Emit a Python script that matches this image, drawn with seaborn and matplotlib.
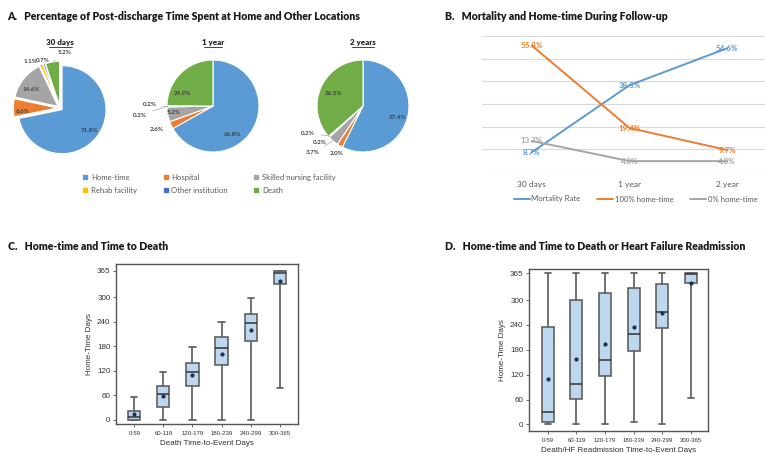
import numpy as np
import pandas as pd
import matplotlib
matplotlib.use("Agg")
import matplotlib.pyplot as plt
from matplotlib.lines import Line2D
import seaborn as sns

# ------------------------------------------------------------------ data
pie_categories = ["Home-time", "Hospital", "Skilled nursing facility",
                  "Rehab facility", "Other institution", "Death"]
pie_titles = ["30 days", "1 year", "2 years"]
pie_30d = [71.8, 6.6, 14.6, 1.1, 0.7, 5.2]
pie_1y = [66.8, 2.6, 5.2, 0.2, 0.2, 24.9]
pie_2y = [57.4, 2.0, 3.7, 0.2, 0.2, 36.5]

followup = ["30 days", "1 year", "2 year"]
line_series = ["Mortality Rate", "100% home-time", "0% home-time"]
mortality_rate = [8.7, 38.3, 54.6]
home_100 = [55.8, 19.4, 9.7]
home_0 = [13.7, 4.8, 4.8]

box_groups = ["0-59", "60-119", "120-179", "180-239", "240-299", "300-365"]
death_whislo = [0, 0, 0, 0, 0, 78]
death_q1 = [0, 30, 81, 133, 192, 331]
death_med = [6, 63, 117, 175, 236, 360]
death_q3 = [22, 82, 139, 201, 258, 365]
death_whishi = [55, 116, 177, 240, 298, 365]
death_mean = [13, 58, 108, 161, 219, 340]

hf_whislo = [0, 0, 0, 5, 0, 63]
hf_q1 = [6, 62, 117, 176, 232, 341]
hf_med = [31, 98, 156, 217, 272, 363]
hf_q3 = [234, 300, 316, 329, 339, 365]
hf_whishi = [365, 365, 365, 365, 365, 365]
hf_mean = [109, 157, 195, 234, 270, 342]

yticks = [0, 60, 120, 180, 240, 300, 365]

# ------------------------------------------------------------------ style
sns.set_style("white")
plt.rcParams["font.family"] = ["Lato", "DejaVu Sans"]

W, H = 765, 453
fig = plt.figure(figsize=(W / 100, H / 100), dpi=100)


def rect(x0, y0, x1, y1):
    return [x0 / W, 1 - y1 / H, (x1 - x0) / W, (y1 - y0) / H]


TITLE_KW = dict(fontsize=7.6, fontweight="heavy", color="#1a1a1a", va="center", ha="left")

# ------------------------------------------------------------------ panel A: pies
pie_colors = ["#5B9BD5", "#ED7D31", "#A5A5A5", "#FFC000", "#4472C4", "#70AD47"]
fig.text(7 / W, 1 - 17 / H,
         "A.   Percentage of Post-discharge Time Spent at Home and Other Locations", **TITLE_KW)

pie_geom = [(60, 108, 44), (213, 106, 46), (363, 106, 46)]
pie_explode = [0.06, 0.0, 0.0]
# label positions (in pie radii from centre) and whether a leader line is drawn
label_pos = [
    [(0.68, -0.50, False), (-0.84, -0.09, False), (-0.64, 0.41, False),
     (-0.68, 1.05, True), (-0.39, 1.09, True), (0.11, 1.25, True)],
    [(0.43, -0.63, False), (-1.22, -0.52, False), (-0.85, -0.15, False),
     (-1.37, 0.04, True), (-1.59, -0.20, True), (-0.67, 0.28, False)],
    [(0.76, -0.24, False), (-0.57, -1.04, True), (-1.09, -1.02, True),
     (-0.93, -0.80, True), (-1.20, -0.59, True), (-0.65, 0.28, False)],
]

for vals, title, (cx, cy, r), ex, lpos in zip([pie_30d, pie_1y, pie_2y], pie_titles,
                                              pie_geom, pie_explode, label_pos):
    s = 1.9
    ax = fig.add_axes(rect(cx - s * r, cy - s * r, cx + s * r, cy + s * r))
    wedges, _ = ax.pie(vals, colors=pie_colors, startangle=90, counterclock=False,
                       explode=[ex] * len(vals), radius=1,
                       wedgeprops=dict(edgecolor="white", linewidth=0.8))
    ax.set_xlim(-s, s)
    ax.set_ylim(-s, s)
    ax.set_aspect("equal")
    ax.axis("off")
    for v, w, (lx, ly, lead) in zip(vals, wedges, lpos):
        txt = f"{v:.1f}%"
        if lead:
            ang = np.deg2rad((w.theta1 + w.theta2) / 2)
            ex0, ey0 = w.center
            ax.annotate(txt, xy=(ex0 + 0.98 * np.cos(ang), ey0 + 0.98 * np.sin(ang)),
                        xytext=(lx, ly), fontsize=4.5, fontweight="bold", color="#404040",
                        ha="center", va="center",
                        arrowprops=dict(arrowstyle="-", color="#a6a6a6", lw=0.5,
                                        shrinkA=2, shrinkB=0))
        else:
            ax.text(lx, ly, txt, fontsize=4.5, fontweight="bold", color="#404040",
                    ha="center", va="center")
    fig.text(cx / W, 1 - 42 / H, title, fontsize=5.8, fontweight="heavy", color="#262626",
             ha="center", va="center")
    tw = {"30 days": 23, "1 year": 18, "2 years": 22}[title]
    fig.add_artist(Line2D([(cx - tw / 2) / W, (cx + tw / 2) / W],
                          [1 - 46.5 / H, 1 - 46.5 / H], color="#262626", lw=0.6))

order = [0, 3, 1, 4, 2, 5]
handles = [Line2D([], [], marker="s", ls="none", color=pie_colors[i], markersize=2.6)
           for i in order]
fig.legend(handles, [pie_categories[i] for i in order], ncol=3,
           loc="upper left", bbox_to_anchor=(83 / W, 1 - 174 / H),
           frameon=False, fontsize=5.6, labelcolor="#595959",
           handlelength=0.6, handletextpad=0.4, columnspacing=3.4,
           labelspacing=0.75, borderaxespad=0, borderpad=0)

# ------------------------------------------------------------------ panel B: lines
fig.text(445 / W, 1 - 17 / H, "B.   Mortality and Home-time During Follow-up", **TITLE_KW)
axb = fig.add_axes(rect(482, 36, 776, 172))
df_lines = pd.DataFrame({
    "followup": followup * 3,
    "value": mortality_rate + home_100 + home_0,
    "series": [line_series[0]] * 3 + [line_series[1]] * 3 + [line_series[2]] * 3,
})
line_colors = {"Mortality Rate": "#5B9BD5", "100% home-time": "#ED7D31",
               "0% home-time": "#A5A5A5"}
sns.lineplot(data=df_lines, x="followup", y="value", hue="series",
             palette=line_colors, linewidth=1.4, ax=axb, legend=False, sort=False)
axb.set_ylim(0, 60)
axb.set_xlim(-0.51, 2.5)
axb.set_yticks(np.arange(0, 61, 10))
axb.yaxis.grid(True, color="#d9d9d9", lw=0.8)
axb.set_axisbelow(True)
axb.tick_params(axis="y", left=False, labelleft=False)
axb.tick_params(axis="x", bottom=False, labelsize=6, labelcolor="#595959", pad=3)
axb.set_xlabel("")
axb.set_ylabel("")
for sp in axb.spines.values():
    sp.set_visible(False)
for name, vals in zip(line_series, [mortality_rate, home_100, home_0]):
    for i, v in enumerate(vals):
        axb.text(i, v, f"{v:.1f}%", color=line_colors[name], fontsize=5.8,
                 fontweight="bold", ha="center", va="center")
lh = [Line2D([], [], color=line_colors[n], lw=1.4) for n in line_series]
fig.legend(lh, line_series, ncol=3, loc="center left",
           bbox_to_anchor=(514 / W, 1 - 199 / H), frameon=False, fontsize=5.6,
           labelcolor="#595959", handlelength=2.0, handletextpad=0.2,
           columnspacing=2.2, borderaxespad=0, borderpad=0)

# ------------------------------------------------------------------ panels C and D: boxes


def draw_box(ax, whislo, q1, med, q3, whishi, mean, xlabel, xlim, ylim):
    stats = [dict(whislo=a, q1=b, med=c, q3=d, whishi=e, mean=f, fliers=[], label=g)
             for a, b, c, d, e, f, g in zip(whislo, q1, med, q3, whishi, mean, box_groups)]
    ax.bxp(stats, positions=range(len(stats)), widths=0.42, patch_artist=True,
           showmeans=True,
           boxprops=dict(facecolor="#BDD7EE", edgecolor="#555555", linewidth=1.1),
           medianprops=dict(color="#333333", linewidth=1.1),
           whiskerprops=dict(color="#666666", linewidth=1.3),
           capprops=dict(color="#666666", linewidth=1.3),
           meanprops=dict(marker="o", markersize=2.0, markerfacecolor="#1f2f4f",
                          markeredgecolor="#1f2f4f"))
    ax.set_xlim(*xlim)
    ax.set_ylim(*ylim)
    ax.set_yticks(yticks)
    ax.set_xticks(range(len(box_groups)))
    ax.set_xticklabels(box_groups)
    ax.tick_params(axis="y", labelsize=5.8, length=2, width=0.6, left=True,
                   labelcolor="#333333", pad=2, color="#555555")
    ax.tick_params(axis="x", labelsize=4.3, length=2, width=0.6, bottom=True,
                   labelcolor="#333333", pad=3, color="#555555")
    ax.set_ylabel("Home-Time Days", fontsize=5.8, color="#333333", labelpad=3,
                  family=["Liberation Sans", "DejaVu Sans"])
    ax.set_xlabel(xlabel, fontsize=5.8, color="#333333", labelpad=3,
                  family=["Liberation Sans", "DejaVu Sans"])
    for lab in ax.get_xticklabels() + ax.get_yticklabels():
        lab.set_family(["Liberation Sans", "DejaVu Sans"])
    for sp in ax.spines.values():
        sp.set_visible(True)
        sp.set_color("#555555")
        sp.set_linewidth(1.0)


fig.text(8 / W, 1 - 247 / H, "C.   Home-time and Time to Death", **TITLE_KW)
axc = fig.add_axes(rect(116, 264, 298, 424))
draw_box(axc, death_whislo, death_q1, death_med, death_q3, death_whishi, death_mean,
         "Death Time-to-Event Days", (-0.63, 5.63), (-11, 381))

fig.text(445 / W, 1 - 247 / H,
         "D.   Home-time and Time to Death or Heart Failure Readmission", **TITLE_KW)
axd = fig.add_axes(rect(529, 269, 708, 431))
draw_box(axd, hf_whislo, hf_q1, hf_med, hf_q3, hf_whishi, hf_mean,
         "Death/HF Readmission Time-to-Event Days", (-0.66, 5.6), (-16, 375))

fig.savefig("out.png", dpi=100, facecolor="white")
